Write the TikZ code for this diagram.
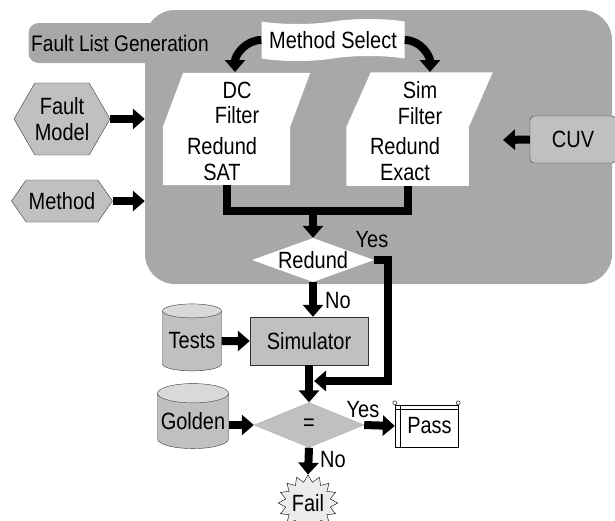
\documentclass[tikz,border=0pt]{standalone}
\usepackage{fontspec}
\setmainfont{Liberation Sans}[FakeStretch=0.85]
\usetikzlibrary{arrows.meta,shapes.geometric,shapes.symbols}

\definecolor{regiongray}{RGB}{168,168,168}
\definecolor{boxgray}{RGB}{192,192,192}

\begin{document}
\begin{tikzpicture}[
    x=1pt, y=-1pt,
    every node/.style={font=\fontsize{23.5}{25.5}\selectfont, inner sep=0pt},
    region/.style={fill=regiongray, rounded corners=30pt},
    tabbox/.style={fill=regiongray, rounded corners=10pt, minimum width=183pt, minimum height=40pt, font=\fontsize{22.5}{24}\selectfont},
    whitebox/.style={fill=white, minimum width=127pt, minimum height=58pt, align=center},
    hexa/.style={signal, signal to=east and west, draw=gray!45!black, fill=boxgray, align=center},
    greybox/.style={draw=gray!40!black, fill=boxgray},
    db/.style={cylinder, shape border rotate=90, aspect=0.3, draw=gray!45!black, cylinder uses custom fill, cylinder body fill=boxgray, cylinder end fill=gray!30},
    line/.style={line width=8pt},
    arr/.style={line width=8pt, -{Triangle[length=12pt,width=20pt]}}
]
\useasboundingbox (0,0) rectangle (615,520);

% Fault list generation region
\node[region, minimum width=467pt, minimum height=274pt] (flg) at (378.5,147) {};
\node[tabbox] (tab) at (120,43) {Fault List Generation};

\node[tape, fill=white, minimum width=143pt, minimum height=42pt] (msel) at (333,40) {Method Select};

% Filters
\node[whitebox] (sat) at (226.5,156) {};
\node[whitebox, minimum width=122pt] (exact) at (407.5,156.5) {};
\fill[white] (sat.south west) -- (sat.south east) -- (sat.north east) -- ++(20,-54) -- ++(-127,0) -- (sat.north west) -- cycle;
\fill[white] (exact.south west) -- (exact.south east) -- (exact.north east) -- ++(24,-55) -- ++(-122,0) -- (exact.north west) -- cycle;
\node[align=center] (dc) at (237,103) {DC\\Filter};
\node[align=center] (simf) at (420,103) {Sim\\Filter};
\node[align=center] (satt) at (222,159) {Redund\\SAT};
\node[align=center] (exactt) at (405,159) {Redund\\Exact};

\coordinate (dcin) at (235,72);
\coordinate (simin) at (430,72);
\draw[arr] (msel.west) to[out=180,in=90] (dcin);
\draw[arr] (msel.east) to[out=0,in=90] (simin);

% Inputs
\node[hexa, minimum width=95pt, minimum height=72pt, signal pointer angle=120] (fm) at (62,119) {Fault\\Model};
\node[hexa, minimum width=101pt, minimum height=42pt, signal pointer angle=110] (meth) at (62,201) {Method};
\draw[arr] (fm.east) -- (fm.east -| flg.west);
\draw[arr] (meth.east) -- (meth.east -| flg.west);

\node[greybox, rounded corners=4pt, minimum width=86pt, minimum height=47pt] (cuv) at (573,139.5) {CUV};
\coordinate (cuvin) at (503,140);
\draw[arr] (cuv.west) -- (cuvin);

% Redundancy check
\node[diamond, fill=white, aspect=2.9, minimum width=122pt, minimum height=44pt] (red) at (313,260) {Redund};
\coordinate (join) at (313,211);
\draw[line] (sat.south) |- (join);
\draw[arr] (exact.south) |- (join) -- (red.north);
\node (yes1) at (372,240) {Yes};

% Simulation
\node[greybox, minimum width=118pt, minimum height=48pt] (sim) at (309,341) {Simulator};
\node[db, minimum width=59pt, minimum height=67pt] (tests) at (192,341) {Tests};
\draw[arr] (red.south) -- (red.south |- sim.north);
\node (no1) at (338,301) {No};
\draw[arr] (tests.east) -- (sim.west);

% Compare
\node[diamond, draw=gray!60, fill=boxgray, aspect=2.4, minimum width=110pt, minimum height=45pt] (eq) at (309,425) {=};
\node[db, minimum width=71pt, minimum height=65pt] (golden) at (193,421) {Golden};
\coordinate (merge) at (314,381);
\draw[arr] (sim.south) -- (eq.north);
\draw[arr] (red.east) -- ++(14,0) |- (merge);
\draw[arr] (golden.east |- eq.west) -- (eq.west);

\node[draw, fill=white, minimum width=63pt, minimum height=42pt] (pass) at (426.5,426) {\hspace{6pt}Pass};
\draw[thin] ([xshift=5pt]pass.north west) -- ([xshift=5pt]pass.south west);
\draw[thin] ([yshift=-4pt]pass.north west) -- ([yshift=-4pt]pass.north east);
\draw[thin, fill=white] ([yshift=2pt]pass.north west) circle (2pt);
\draw[thin, fill=white] ([yshift=2pt]pass.north east) circle (2pt);
\draw[arr] (eq.east) -- (pass.west);
\node (yes2) at (363,410) {Yes};

\node[starburst, draw, fill=gray!15, starburst points=16, starburst point height=7pt, random starburst=0, minimum width=58pt, minimum height=56pt] (fail) at (308,503) {Fail};
\draw[arr] (eq.south) -- (fail.north);
\node (no2) at (333,460) {No};

\end{tikzpicture}
\end{document}
